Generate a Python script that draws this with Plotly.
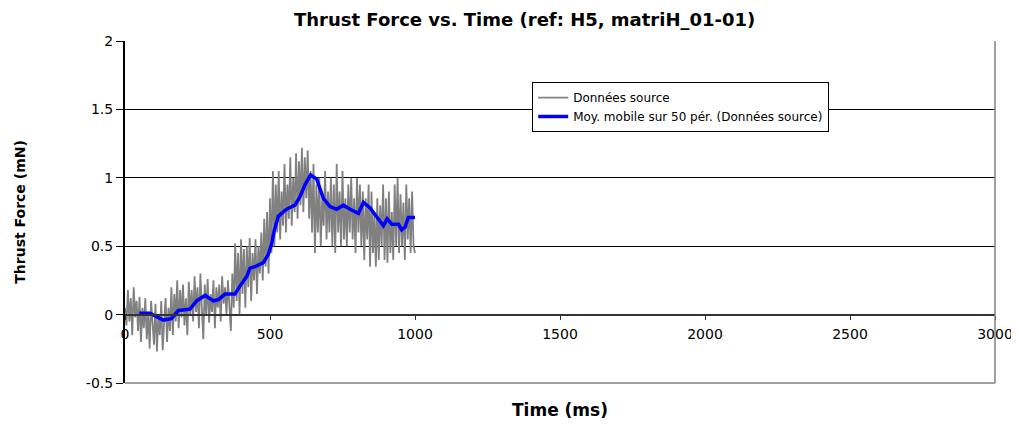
import plotly.graph_objects as go

# raw thrust samples, one every 5 ms from 0 to 1000 ms
time_ms = list(range(0, 1001, 5))
thrust_raw = [
    0.05, -0.08, 0.18, -0.05, 0.12, -0.15, 0.2, -0.02, 0.1, -0.12,
    0.13, -0.2, 0.05, -0.1, 0.12, -0.18, 0.02, -0.25, 0.1, -0.05,
    -0.22, 0.08, -0.27, 0.0, -0.15, 0.1, -0.26, -0.05, 0.12, -0.2,
    0.05, -0.12, 0.2, -0.15, 0.15, -0.05, 0.25, -0.1, 0.18, -0.02,
    0.22, -0.08, 0.12, -0.15, 0.24, 0.0, 0.18, -0.05, 0.28, 0.02,
    0.2, -0.1, 0.3, 0.05, -0.18, 0.22, 0.0, 0.26, -0.06, 0.15,
    0.02, 0.25, -0.1, 0.2, 0.05, 0.22, -0.05, 0.28, 0.08, 0.2,
    0.0, 0.25, 0.1, -0.12, 0.3, 0.05, 0.52, 0.1, 0.45, 0.0,
    0.55, 0.15, 0.48, 0.05, 0.5, 0.2, 0.56, 0.1, 0.45, 0.25,
    0.55, 0.15, 0.5, 0.3, 0.6, 0.25, 0.7, 0.35, 0.75, 0.3,
    0.85, 0.45, 1.05, 0.5, 0.95, 0.6, 1.05, 0.55, 0.9, 0.65,
    1.1, 0.6, 0.95, 0.7, 1.15, 0.65, 1.0, 0.75, 1.18, 0.7,
    1.12, 0.8, 1.22, 0.75, 1.15, 0.85, 1.2, 0.7, 1.05, 0.6,
    1.1, 0.45, 0.95, 0.6, 1.0, 0.5, 0.85, 0.65, 1.05, 0.55,
    0.9, 0.6, 1.0, 0.5, 0.95, 0.45, 1.1, 0.6, 0.9, 0.5,
    1.05, 0.55, 0.85, 0.5, 0.95, 0.6, 1.0, 0.55, 0.85, 0.45,
    1.0, 0.6, 0.95, 0.5, 0.9, 0.4, 0.85, 0.55, 0.95, 0.35,
    0.9, 0.45, 0.75, 0.35, 0.85, 0.4, 0.8, 0.5, 0.95, 0.4,
    0.85, 0.38, 0.9, 0.45, 0.75, 0.4, 0.95, 0.5, 1.0, 0.45,
    0.88, 0.5, 0.82, 0.4, 0.95, 0.55, 0.85, 0.45, 0.9, 0.5,
    0.45,
]

# 50-period moving average as drawn in the chart
ma_time = [49, 86, 132, 160, 184, 224, 247, 276, 305, 322, 345, 379, 397, 420,
           431, 448, 477, 494, 506, 514, 529, 557, 586, 603, 621, 640, 661, 684,
           707, 730, 753, 776, 805, 822, 845, 868, 891, 904, 920, 943, 954, 966,
           977, 1000]
ma_thrust = [0.01, 0.01, -0.04, -0.03, 0.03, 0.04, 0.10, 0.14, 0.10, 0.11, 0.15,
             0.15, 0.21, 0.28, 0.34, 0.35, 0.38, 0.44, 0.52, 0.61, 0.72, 0.77,
             0.80, 0.86, 0.95, 1.02, 0.99, 0.85, 0.79, 0.77, 0.80, 0.77, 0.74,
             0.82, 0.78, 0.71, 0.65, 0.70, 0.66, 0.66, 0.62, 0.64, 0.71, 0.71]

y_ticks = [-0.5, 0, 0.5, 1, 1.5, 2]
y_labels = ['-0.5', '0', '0.5', '1', '1.5', '2']
x_ticks = [0, 500, 1000, 1500, 2000, 2500, 3000]

tick_font = dict(family='DejaVu Sans', size=14, color='black')

fig = go.Figure()
fig.add_trace(go.Scatter(x=time_ms, y=thrust_raw, mode='lines',
                         name='Données source',
                         line=dict(color='#808080', width=1.8)))
fig.add_trace(go.Scatter(x=ma_time, y=ma_thrust, mode='lines',
                         name='Moy. mobile sur 50 pér. (Données source)',
                         line=dict(color='#0000FF', width=3.5)))

# the page body has an 8px margin, so the figure is 8px smaller than the window
fig.update_layout(
    width=1011, height=416,
    margin=dict(l=117, r=24, t=33, b=41),
    paper_bgcolor='white', plot_bgcolor='white',
    showlegend=True,
    legend=dict(x=0.468, y=0.88, xanchor='left', yanchor='top',
                bgcolor='white', bordercolor='black', borderwidth=1,
                font=dict(family='DejaVu Sans', size=12, color='black'),
                itemwidth=30, tracegroupgap=0),
    xaxis=dict(range=[0, 3000], tickvals=x_ticks, anchor='free', position=0.2,
               showline=True, linecolor='#333333', linewidth=2,
               ticks='outside', ticklen=4, tickcolor='#333333',
               ticklabelstandoff=3, automargin=False,
               showgrid=False, zeroline=False, tickfont=tick_font),
    yaxis=dict(range=[-0.5, 2], tickvals=y_ticks, ticktext=y_labels,
               showline=True, linecolor='black', linewidth=2,
               ticks='outside', ticklen=7, tickcolor='black',
               showgrid=True, gridcolor='black', gridwidth=1,
               zeroline=False, tickfont=tick_font, automargin=False),
    title=dict(text='<b>Thrust Force vs. Time (ref: H5, matriH_01-01)</b>',
               x=0.511, xanchor='center', y=0.973, yanchor='middle',
               font=dict(family='DejaVu Sans', size=18, color='black')),
)

# axis titles as annotations, placed like the spreadsheet chart
fig.add_annotation(text='<b>Time (ms)</b>', xref='paper', yref='paper',
                   x=0.5, y=-0.079, xanchor='center', yanchor='middle',
                   showarrow=False,
                   font=dict(family='DejaVu Sans', size=17, color='black'))
fig.add_annotation(text='<b>Thrust Force (mN)</b>', xref='paper', yref='paper',
                   x=-0.121, y=0.5, xanchor='center', yanchor='middle',
                   textangle=-90, showarrow=False,
                   font=dict(family='DejaVu Sans', size=14, color='black'))

# grey right and bottom frame lines
fig.add_shape(type='line', xref='paper', yref='paper', x0=1, x1=1, y0=0, y1=1,
              line=dict(color='#808080', width=1.5))
fig.add_shape(type='line', xref='paper', yref='paper', x0=0, x1=1, y0=0, y1=0,
              line=dict(color='#808080', width=1.5))

fig.write_html("out.html")
